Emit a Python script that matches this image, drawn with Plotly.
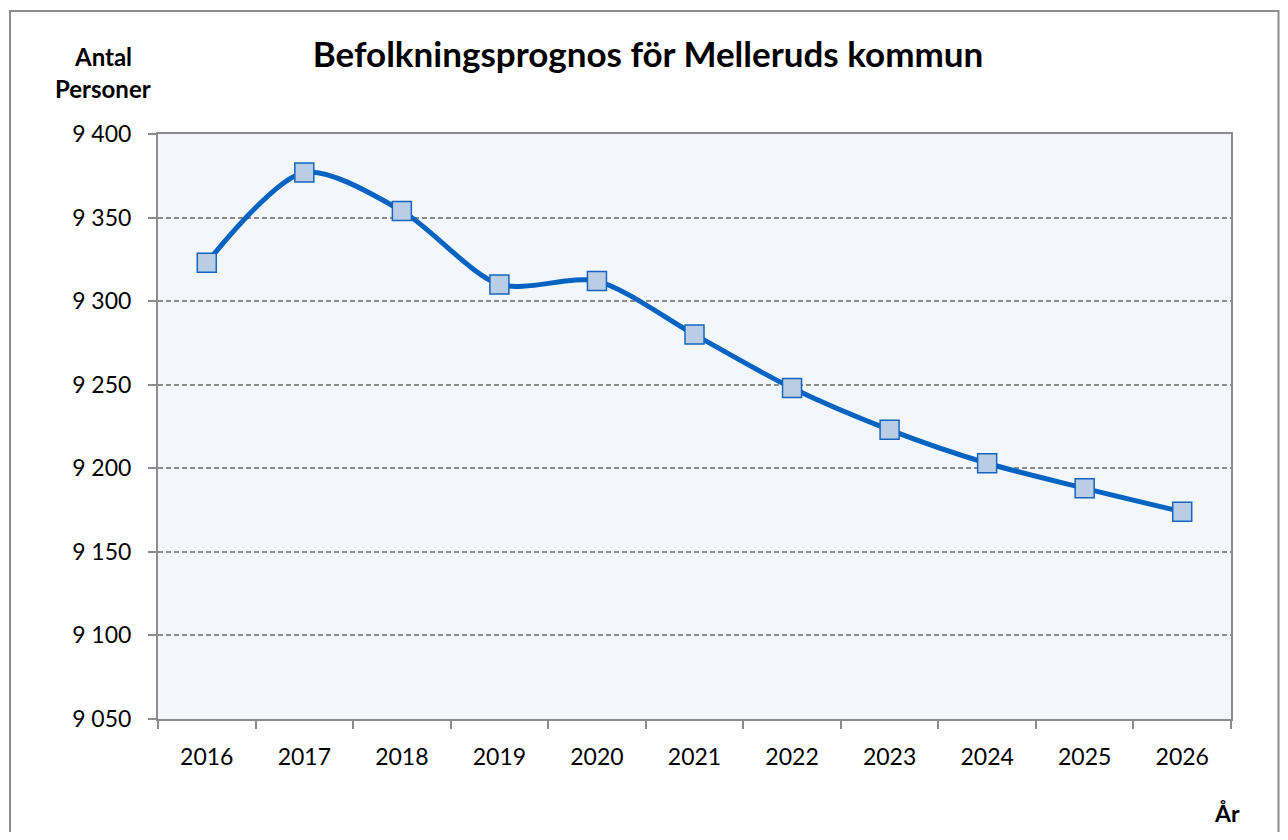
import plotly.graph_objects as go

years = ["2016", "2017", "2018", "2019", "2020", "2021", "2022", "2023", "2024", "2025", "2026"]
population = [9323, 9377, 9354, 9310, 9312, 9280, 9248, 9223, 9203, 9188, 9174]
y_ticks = [9050, 9100, 9150, 9200, 9250, 9300, 9350, 9400]

title_text = "Befolkningsprognos för Melleruds kommun"
y_label_lines = ["Antal", "Personer"]
x_label = "År"

FONT = "Lato"
GRAY = "#8c8c8c"

# page has an 8px body margin; figure coordinates = screen - 8
W, H = 1272, 824
L, R, T, B = 150, 49, 126, 112.5
PW = W - L - R
PH = H - T - B


def px(xs):
    return (xs - 8 - L) / PW


def py(ys):
    return (H - B - (ys - 8)) / PH


fig = go.Figure()
fig.add_trace(go.Scatter(
    x=years, y=population,
    mode="lines+markers",
    line=dict(color="#0563c1", width=5, shape="spline", smoothing=0.8),
    marker=dict(symbol="square", size=19, color="#b9cde5",
                line=dict(color="#1565c0", width=1.5)),
    hoverinfo="x+y",
))

fig.update_layout(
    width=W, height=H,
    margin=dict(l=L, r=R, t=T, b=B),
    paper_bgcolor="white",
    plot_bgcolor="#f3f7fc",
    showlegend=False,
    separators=", ",
    font=dict(family=FONT, size=23, color="black"),
    title=dict(text="<b>" + title_text + "</b>", xref="container", yref="container",
               x=(648 - 8) / W, xanchor="center", y=1 - (55 - 8) / H, yanchor="middle",
               font=dict(family=FONT, size=35, color="black")),
    xaxis=dict(
        type="category", range=[-0.5, 10.5],
        tickson="boundaries", ticks="outside", ticklen=8, tickcolor=GRAY, tickwidth=2,
        showline=True, linecolor=GRAY, linewidth=2, mirror=True,
        showgrid=False, tickfont=dict(family=FONT, size=23),
        ticklabelstandoff=16,
        fixedrange=True,
    ),
    yaxis=dict(
        range=[9050, 9400], tickvals=y_ticks, tickformat=",d", separatethousands=True,
        ticks="outside", ticklen=8, tickcolor=GRAY, tickwidth=2,
        showline=True, linecolor=GRAY, linewidth=2, mirror=True,
        showgrid=True, gridcolor="#8c8c8c", gridwidth=1.5, griddash="5px,3px",
        zeroline=False, tickfont=dict(family=FONT, size=23),
        ticklabelstandoff=12,
        fixedrange=True,
    ),
)

fig.add_annotation(text="<b>" + y_label_lines[0] + "</b>", xref="paper", yref="paper",
                   x=px(103), y=py(56), showarrow=False,
                   xanchor="center", yanchor="middle", font=dict(family=FONT, size=24))
fig.add_annotation(text="<b>" + y_label_lines[1] + "</b>", xref="paper", yref="paper",
                   x=px(103), y=py(88), showarrow=False,
                   xanchor="center", yanchor="middle", font=dict(family=FONT, size=24))
fig.add_annotation(text="<b>" + x_label + "</b>", xref="paper", yref="paper",
                   x=px(1227), y=py(814), showarrow=False,
                   xanchor="center", yanchor="middle", font=dict(family=FONT, size=23))

fig.add_shape(type="rect", xref="paper", yref="paper",
              x0=px(10), x1=px(1278.5),
              y0=py(860), y1=py(11),
              line=dict(color=GRAY, width=2), fillcolor="rgba(0,0,0,0)", layer="below")

fig.write_html("out.html")
